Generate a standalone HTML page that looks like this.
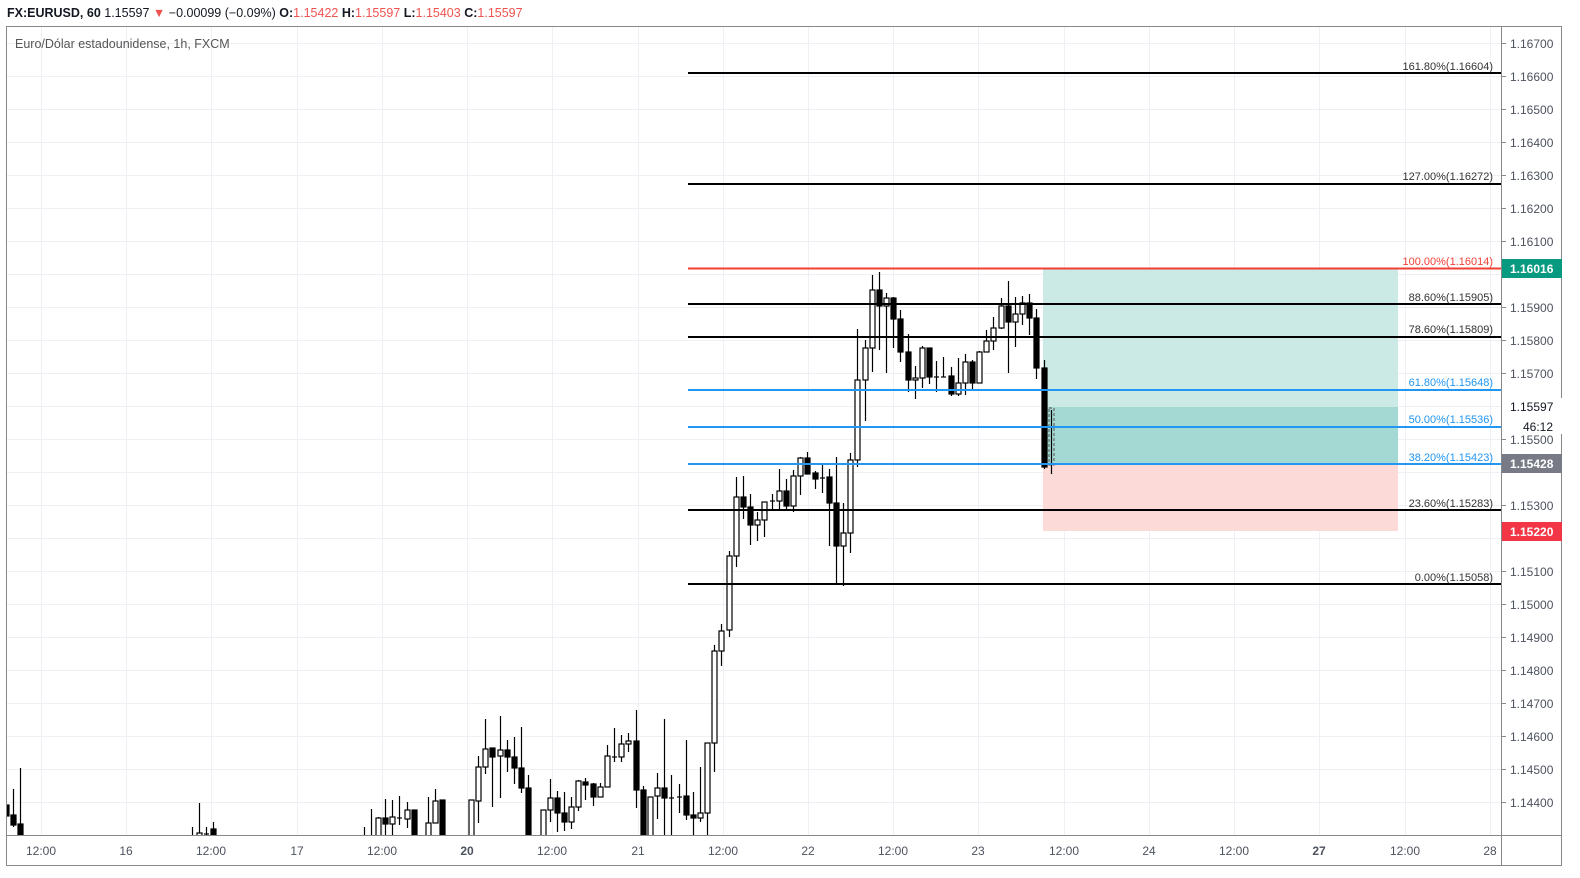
<!DOCTYPE html>
<html><head><meta charset="utf-8"><style>
html,body{margin:0;padding:0;background:#fff;overflow:hidden;width:1580px;height:878px;}
svg{display:block;font-family:"Liberation Sans",sans-serif;}
</style></head><body>
<svg width="1580" height="878" viewBox="0 0 1580 878" xmlns="http://www.w3.org/2000/svg">
<rect width="1580" height="878" fill="#fff"/>
<text x="7" y="17" font-size="12.5" fill="#131722"><tspan font-weight="bold">FX:EURUSD, 60</tspan> 1.15597 <tspan fill="#ef5350">▼</tspan> −0.00099 (−0.09%) <tspan font-weight="bold">O:</tspan><tspan fill="#ef5350">1.15422</tspan> <tspan font-weight="bold">H:</tspan><tspan fill="#ef5350">1.15597</tspan> <tspan font-weight="bold">L:</tspan><tspan fill="#ef5350">1.15403</tspan> <tspan font-weight="bold">C:</tspan><tspan fill="#ef5350">1.15597</tspan></text>
<g stroke="#eef0f5" stroke-width="1">
<line x1="7" x2="1501" y1="43.5" y2="43.5"/><line x1="7" x2="1501" y1="76.5" y2="76.5"/><line x1="7" x2="1501" y1="109.5" y2="109.5"/><line x1="7" x2="1501" y1="142.5" y2="142.5"/><line x1="7" x2="1501" y1="175.5" y2="175.5"/><line x1="7" x2="1501" y1="208.5" y2="208.5"/><line x1="7" x2="1501" y1="241.5" y2="241.5"/><line x1="7" x2="1501" y1="274.5" y2="274.5"/><line x1="7" x2="1501" y1="307.5" y2="307.5"/><line x1="7" x2="1501" y1="340.5" y2="340.5"/><line x1="7" x2="1501" y1="373.5" y2="373.5"/><line x1="7" x2="1501" y1="406.5" y2="406.5"/><line x1="7" x2="1501" y1="439.5" y2="439.5"/><line x1="7" x2="1501" y1="472.5" y2="472.5"/><line x1="7" x2="1501" y1="505.5" y2="505.5"/><line x1="7" x2="1501" y1="538.5" y2="538.5"/><line x1="7" x2="1501" y1="571.5" y2="571.5"/><line x1="7" x2="1501" y1="604.5" y2="604.5"/><line x1="7" x2="1501" y1="637.5" y2="637.5"/><line x1="7" x2="1501" y1="670.5" y2="670.5"/><line x1="7" x2="1501" y1="703.5" y2="703.5"/><line x1="7" x2="1501" y1="736.5" y2="736.5"/><line x1="7" x2="1501" y1="769.5" y2="769.5"/><line x1="7" x2="1501" y1="802.5" y2="802.5"/>
<line y1="27" y2="835" x1="41.5" x2="41.5"/><line y1="27" y2="835" x1="126.5" x2="126.5"/><line y1="27" y2="835" x1="211.5" x2="211.5"/><line y1="27" y2="835" x1="297.5" x2="297.5"/><line y1="27" y2="835" x1="382.5" x2="382.5"/><line y1="27" y2="835" x1="467.5" x2="467.5"/><line y1="27" y2="835" x1="552.5" x2="552.5"/><line y1="27" y2="835" x1="638.5" x2="638.5"/><line y1="27" y2="835" x1="723.5" x2="723.5"/><line y1="27" y2="835" x1="808.5" x2="808.5"/><line y1="27" y2="835" x1="893.5" x2="893.5"/><line y1="27" y2="835" x1="978.5" x2="978.5"/><line y1="27" y2="835" x1="1064.5" x2="1064.5"/><line y1="27" y2="835" x1="1149.5" x2="1149.5"/><line y1="27" y2="835" x1="1234.5" x2="1234.5"/><line y1="27" y2="835" x1="1319.5" x2="1319.5"/><line y1="27" y2="835" x1="1405.5" x2="1405.5"/><line y1="27" y2="835" x1="1490.5" x2="1490.5"/>
</g>
<text x="15" y="48" font-size="12.5" fill="#555">Euro/Dólar estadounidense, 1h, FXCM</text>
<rect x="1043" y="268" width="355" height="196" fill="#cbe9e5"/>
<rect x="1043" y="407" width="355" height="57" fill="#a3d9d2"/>
<rect x="1043" y="464" width="355" height="67" fill="#fcdad8"/>
<defs><clipPath id="c"><rect x="7" y="27" width="1494" height="808"/></clipPath></defs>
<g clip-path="url(#c)" stroke="#000" stroke-width="1.2">
<rect x="5" y="805" width="4" height="11" fill="#000"/>
<line x1="13.5" x2="13.5" y1="789" y2="827"/><rect x="11" y="815" width="5" height="10" fill="#000"/>
<line x1="20.5" x2="20.5" y1="768" y2="840"/><rect x="18" y="824" width="5" height="16" fill="#000"/>
<line x1="192.5" x2="192.5" y1="827" y2="840"/>
<line x1="199.5" x2="199.5" y1="803" y2="840"/><rect x="197" y="833" width="5" height="7" fill="#fff"/>
<line x1="206.5" x2="206.5" y1="827" y2="840"/><line x1="204" x2="209" y1="834" y2="834"/>
<line x1="213.5" x2="213.5" y1="822" y2="840"/><rect x="211" y="829" width="5" height="11" fill="#000"/>
<line x1="364.5" x2="364.5" y1="827" y2="840"/>
<line x1="371.5" x2="371.5" y1="809" y2="840"/>
<line x1="378.5" x2="378.5" y1="817" y2="840"/><rect x="376" y="818" width="5" height="22" fill="#fff"/>
<line x1="385.5" x2="385.5" y1="799" y2="840"/><rect x="383" y="818" width="5" height="6" fill="#000"/>
<line x1="392.5" x2="392.5" y1="800" y2="840"/><rect x="390" y="817" width="5" height="7" fill="#fff"/>
<line x1="399.5" x2="399.5" y1="796" y2="825"/><line x1="397" x2="402" y1="818" y2="818"/>
<line x1="407.5" x2="407.5" y1="802" y2="828"/><rect x="405" y="810" width="5" height="9" fill="#fff"/>
<line x1="414.5" x2="414.5" y1="810" y2="840"/><rect x="412" y="810" width="5" height="30" fill="#000"/>
<line x1="428.5" x2="428.5" y1="797" y2="840"/><rect x="426" y="823" width="5" height="17" fill="#fff"/>
<line x1="435.5" x2="435.5" y1="789" y2="823"/><rect x="433" y="801" width="5" height="22" fill="#fff"/>
<rect x="440" y="800" width="5" height="40" fill="#000"/>
<rect x="469" y="800" width="5" height="40" fill="#fff"/>
<line x1="478.5" x2="478.5" y1="756" y2="823"/><rect x="476" y="767" width="5" height="34" fill="#fff"/>
<line x1="485.5" x2="485.5" y1="719" y2="774"/><rect x="483" y="749" width="5" height="18" fill="#fff"/>
<line x1="492.5" x2="492.5" y1="748" y2="807"/><rect x="490" y="748" width="5" height="9" fill="#000"/>
<line x1="500.5" x2="500.5" y1="716" y2="798"/><rect x="498" y="750" width="5" height="6" fill="#fff"/>
<line x1="507.5" x2="507.5" y1="740" y2="772"/><rect x="505" y="750" width="5" height="7" fill="#000"/>
<line x1="514.5" x2="514.5" y1="737" y2="784"/><rect x="512" y="757" width="5" height="11" fill="#000"/>
<line x1="521.5" x2="521.5" y1="727" y2="793"/><rect x="519" y="768" width="5" height="20" fill="#000"/>
<line x1="528.5" x2="528.5" y1="775" y2="840"/><rect x="526" y="788" width="5" height="52" fill="#000"/>
<rect x="541" y="810" width="5" height="30" fill="#fff"/>
<line x1="550.5" x2="550.5" y1="779" y2="822"/><rect x="548" y="798" width="5" height="12" fill="#fff"/>
<line x1="557.5" x2="557.5" y1="791" y2="832"/><rect x="555" y="798" width="5" height="15" fill="#000"/>
<line x1="564.5" x2="564.5" y1="792" y2="831"/><rect x="562" y="813" width="5" height="9" fill="#000"/>
<line x1="571.5" x2="571.5" y1="797" y2="829"/><rect x="569" y="807" width="5" height="15" fill="#fff"/>
<line x1="578.5" x2="578.5" y1="780" y2="811"/><rect x="576" y="781" width="5" height="26" fill="#fff"/>
<line x1="585.5" x2="585.5" y1="778" y2="800"/><rect x="583" y="782" width="5" height="3" fill="#000"/>
<line x1="593.5" x2="593.5" y1="783" y2="806"/><rect x="591" y="784" width="5" height="13" fill="#000"/>
<line x1="600.5" x2="600.5" y1="783" y2="797"/><rect x="598" y="787" width="5" height="10" fill="#fff"/>
<line x1="607.5" x2="607.5" y1="745" y2="787"/><rect x="605" y="756" width="5" height="31" fill="#fff"/>
<line x1="614.5" x2="614.5" y1="728" y2="762"/><line x1="612" x2="617" y1="757" y2="757"/>
<line x1="621.5" x2="621.5" y1="735" y2="762"/><rect x="619" y="744" width="5" height="13" fill="#fff"/>
<line x1="628.5" x2="628.5" y1="733" y2="752"/><rect x="626" y="741" width="5" height="3" fill="#fff"/>
<line x1="636.5" x2="636.5" y1="710" y2="808"/><rect x="634" y="741" width="5" height="49" fill="#000"/>
<line x1="643.5" x2="643.5" y1="786" y2="840"/><rect x="641" y="790" width="5" height="50" fill="#000"/>
<rect x="648" y="797" width="5" height="43" fill="#fff"/>
<line x1="657.5" x2="657.5" y1="773" y2="819"/><rect x="655" y="788" width="5" height="8" fill="#fff"/>
<line x1="664.5" x2="664.5" y1="719" y2="840"/><rect x="662" y="788" width="5" height="10" fill="#000"/>
<line x1="671.5" x2="671.5" y1="775" y2="840"/><line x1="669" x2="674" y1="798" y2="798"/>
<line x1="679.5" x2="679.5" y1="784" y2="813"/><line x1="677" x2="682" y1="797" y2="797"/>
<line x1="686.5" x2="686.5" y1="740" y2="820"/><rect x="684" y="796" width="5" height="19" fill="#000"/>
<line x1="693.5" x2="693.5" y1="792" y2="837"/><rect x="691" y="815" width="5" height="3" fill="#000"/>
<line x1="700.5" x2="700.5" y1="767" y2="822"/><rect x="698" y="813" width="5" height="5" fill="#fff"/>
<line x1="707.5" x2="707.5" y1="743" y2="840"/><rect x="705" y="743" width="5" height="70" fill="#fff"/>
<line x1="714.5" x2="714.5" y1="645" y2="772"/><rect x="712" y="651" width="5" height="92" fill="#fff"/>
<line x1="721.5" x2="721.5" y1="624" y2="666"/><rect x="719" y="631" width="5" height="20" fill="#fff"/>
<line x1="729.5" x2="729.5" y1="551" y2="637"/><rect x="727" y="556" width="5" height="74" fill="#fff"/>
<line x1="736.5" x2="736.5" y1="477" y2="567"/><rect x="734" y="497" width="5" height="59" fill="#fff"/>
<line x1="743.5" x2="743.5" y1="476" y2="519"/><rect x="741" y="497" width="5" height="10" fill="#000"/>
<line x1="750.5" x2="750.5" y1="494" y2="545"/><rect x="748" y="507" width="5" height="18" fill="#000"/>
<line x1="757.5" x2="757.5" y1="512" y2="541"/><rect x="755" y="520" width="5" height="5" fill="#fff"/>
<line x1="764.5" x2="764.5" y1="502" y2="537"/><rect x="762" y="502" width="5" height="18" fill="#fff"/>
<line x1="772.5" x2="772.5" y1="494" y2="509"/><line x1="770" x2="775" y1="501" y2="501"/>
<line x1="779.5" x2="779.5" y1="469" y2="509"/><rect x="777" y="491" width="5" height="10" fill="#fff"/>
<line x1="786.5" x2="786.5" y1="479" y2="511"/><rect x="784" y="491" width="5" height="15" fill="#000"/>
<line x1="793.5" x2="793.5" y1="470" y2="512"/><rect x="791" y="476" width="5" height="30" fill="#fff"/>
<line x1="800.5" x2="800.5" y1="457" y2="495"/><rect x="798" y="458" width="5" height="18" fill="#fff"/>
<line x1="807.5" x2="807.5" y1="452" y2="474"/><rect x="805" y="458" width="5" height="16" fill="#000"/>
<line x1="815.5" x2="815.5" y1="471" y2="489"/><rect x="813" y="473" width="5" height="6" fill="#000"/>
<line x1="822.5" x2="822.5" y1="463" y2="493"/><line x1="820" x2="825" y1="478" y2="478"/>
<line x1="829.5" x2="829.5" y1="469" y2="546"/><rect x="827" y="477" width="5" height="26" fill="#000"/>
<line x1="836.5" x2="836.5" y1="457" y2="583"/><rect x="834" y="503" width="5" height="43" fill="#000"/>
<line x1="843.5" x2="843.5" y1="503" y2="586"/><rect x="841" y="533" width="5" height="13" fill="#fff"/>
<line x1="850.5" x2="850.5" y1="453" y2="553"/><rect x="848" y="460" width="5" height="73" fill="#fff"/>
<line x1="857.5" x2="857.5" y1="329" y2="467"/><rect x="855" y="380" width="5" height="80" fill="#fff"/>
<line x1="865.5" x2="865.5" y1="340" y2="421"/><rect x="863" y="348" width="5" height="32" fill="#fff"/>
<line x1="872.5" x2="872.5" y1="275" y2="372"/><rect x="870" y="290" width="5" height="58" fill="#fff"/>
<line x1="879.5" x2="879.5" y1="272" y2="350"/><rect x="877" y="290" width="5" height="16" fill="#000"/>
<line x1="886.5" x2="886.5" y1="293" y2="373"/><rect x="884" y="298" width="5" height="8" fill="#fff"/>
<line x1="893.5" x2="893.5" y1="297" y2="348"/><rect x="891" y="298" width="5" height="21" fill="#000"/>
<line x1="900.5" x2="900.5" y1="310" y2="362"/><rect x="898" y="319" width="5" height="33" fill="#000"/>
<line x1="908.5" x2="908.5" y1="334" y2="392"/><rect x="906" y="352" width="5" height="28" fill="#000"/>
<line x1="915.5" x2="915.5" y1="366" y2="399"/><rect x="913" y="378" width="5" height="2" fill="#fff"/>
<line x1="922.5" x2="922.5" y1="346" y2="388"/><rect x="920" y="348" width="5" height="30" fill="#fff"/>
<line x1="929.5" x2="929.5" y1="348" y2="384"/><rect x="927" y="348" width="5" height="29" fill="#000"/>
<line x1="936.5" x2="936.5" y1="361" y2="392"/><line x1="934" x2="939" y1="377" y2="377"/>
<line x1="943.5" x2="943.5" y1="357" y2="377"/><line x1="941" x2="946" y1="377" y2="377"/>
<line x1="951.5" x2="951.5" y1="367" y2="396"/><rect x="949" y="376" width="5" height="18" fill="#000"/>
<line x1="958.5" x2="958.5" y1="358" y2="396"/><rect x="956" y="383" width="5" height="11" fill="#fff"/>
<line x1="965.5" x2="965.5" y1="354" y2="395"/><rect x="963" y="362" width="5" height="21" fill="#fff"/>
<line x1="972.5" x2="972.5" y1="360" y2="391"/><rect x="970" y="362" width="5" height="21" fill="#000"/>
<line x1="979.5" x2="979.5" y1="351" y2="383"/><rect x="977" y="352" width="5" height="31" fill="#fff"/>
<line x1="986.5" x2="986.5" y1="330" y2="352"/><rect x="984" y="341" width="5" height="11" fill="#fff"/>
<line x1="993.5" x2="993.5" y1="317" y2="350"/><rect x="991" y="328" width="5" height="13" fill="#fff"/>
<line x1="1001.5" x2="1001.5" y1="298" y2="329"/><rect x="999" y="306" width="5" height="22" fill="#fff"/>
<line x1="1008.5" x2="1008.5" y1="281" y2="373"/><rect x="1006" y="306" width="5" height="16" fill="#000"/>
<line x1="1015.5" x2="1015.5" y1="297" y2="347"/><rect x="1013" y="314" width="5" height="8" fill="#fff"/>
<line x1="1022.5" x2="1022.5" y1="296" y2="325"/><rect x="1020" y="303" width="5" height="11" fill="#fff"/>
<line x1="1029.5" x2="1029.5" y1="294" y2="335"/><rect x="1027" y="303" width="5" height="15" fill="#000"/>
<line x1="1036.5" x2="1036.5" y1="309" y2="379"/><rect x="1034" y="318" width="5" height="50" fill="#000"/>
<line x1="1044.5" x2="1044.5" y1="360" y2="469"/><rect x="1042" y="368" width="5" height="99" fill="#000"/>
<line x1="1051.5" x2="1051.5" y1="410" y2="474"/><rect x="1049" y="408" width="5" height="57" fill="none" stroke="#666" stroke-dasharray="3,2"/>
</g>
<g stroke-width="2">
<line x1="688" x2="1501" y1="73" y2="73" stroke="#000"/>
<line x1="688" x2="1501" y1="184" y2="184" stroke="#000"/>
<line x1="688" x2="1501" y1="268.5" y2="268.5" stroke="#f23f35"/>
<line x1="688" x2="1501" y1="304" y2="304" stroke="#000"/>
<line x1="688" x2="1501" y1="337" y2="337" stroke="#000"/>
<line x1="688" x2="1501" y1="390" y2="390" stroke="#2196f3"/>
<line x1="688" x2="1501" y1="427" y2="427" stroke="#2196f3"/>
<line x1="688" x2="1501" y1="464" y2="464" stroke="#2196f3"/>
<line x1="688" x2="1501" y1="510" y2="510" stroke="#000"/>
<line x1="688" x2="1501" y1="584" y2="584" stroke="#000"/>
</g>
<g font-size="11" text-anchor="end" fill="#333">
<text x="1493" y="70">161.80%(1.16604)</text>
<text x="1493" y="180">127.00%(1.16272)</text>
<text x="1493" y="265" fill="#f23f35">100.00%(1.16014)</text>
<text x="1493" y="301">88.60%(1.15905)</text>
<text x="1493" y="333">78.60%(1.15809)</text>
<text x="1493" y="386" fill="#2196f3">61.80%(1.15648)</text>
<text x="1493" y="423" fill="#2196f3">50.00%(1.15536)</text>
<text x="1493" y="461" fill="#2196f3">38.20%(1.15423)</text>
<text x="1493" y="507">23.60%(1.15283)</text>
<text x="1493" y="581">0.00%(1.15058)</text>
</g>
<g stroke="#888" stroke-width="1" fill="none">
<rect x="6.5" y="26.5" width="1555" height="839"/>
<line x1="1501.5" x2="1501.5" y1="27" y2="865"/>
<line x1="7" x2="1562" y1="835.5" y2="835.5"/>
</g>
<g font-size="12" fill="#4c525e">
<g stroke="#888"><line x1="1502" x2="1506" y1="43.5" y2="43.5"/><line x1="1502" x2="1506" y1="76.5" y2="76.5"/><line x1="1502" x2="1506" y1="109.5" y2="109.5"/><line x1="1502" x2="1506" y1="142.5" y2="142.5"/><line x1="1502" x2="1506" y1="175.5" y2="175.5"/><line x1="1502" x2="1506" y1="208.5" y2="208.5"/><line x1="1502" x2="1506" y1="241.5" y2="241.5"/><line x1="1502" x2="1506" y1="307.5" y2="307.5"/><line x1="1502" x2="1506" y1="340.5" y2="340.5"/><line x1="1502" x2="1506" y1="373.5" y2="373.5"/><line x1="1502" x2="1506" y1="439.5" y2="439.5"/><line x1="1502" x2="1506" y1="505.5" y2="505.5"/><line x1="1502" x2="1506" y1="571.5" y2="571.5"/><line x1="1502" x2="1506" y1="604.5" y2="604.5"/><line x1="1502" x2="1506" y1="637.5" y2="637.5"/><line x1="1502" x2="1506" y1="670.5" y2="670.5"/><line x1="1502" x2="1506" y1="703.5" y2="703.5"/><line x1="1502" x2="1506" y1="736.5" y2="736.5"/><line x1="1502" x2="1506" y1="769.5" y2="769.5"/><line x1="1502" x2="1506" y1="802.5" y2="802.5"/><line x1="1502" x2="1506" y1="406.5" y2="406.5" stroke="#000"/></g>
<text x="1510" y="48">1.16700</text><text x="1510" y="81">1.16600</text><text x="1510" y="114">1.16500</text><text x="1510" y="147">1.16400</text><text x="1510" y="180">1.16300</text><text x="1510" y="213">1.16200</text><text x="1510" y="246">1.16100</text><text x="1510" y="312">1.15900</text><text x="1510" y="345">1.15800</text><text x="1510" y="378">1.15700</text><text x="1510" y="444">1.15500</text><text x="1510" y="510">1.15300</text><text x="1510" y="576">1.15100</text><text x="1510" y="609">1.15000</text><text x="1510" y="642">1.14900</text><text x="1510" y="675">1.14800</text><text x="1510" y="708">1.14700</text><text x="1510" y="741">1.14600</text><text x="1510" y="774">1.14500</text><text x="1510" y="807">1.14400</text>
<rect x="1502" y="398" width="60" height="36" fill="#fff"/>
<text x="1510" y="411" fill="#131722">1.15597</text>
<text x="1523" y="431" fill="#131722">46:12</text>
<rect x="1502" y="259" width="60" height="19" fill="#089981"/>
<text x="1510" y="273" fill="#fff" font-weight="bold">1.16016</text>
<rect x="1502" y="454" width="60" height="19" fill="#787b86"/>
<text x="1510" y="468" fill="#fff" font-weight="bold">1.15428</text>
<rect x="1502" y="522" width="60" height="19" fill="#f23645"/>
<text x="1510" y="536" fill="#fff" font-weight="bold">1.15220</text>
</g>
<g font-size="12" fill="#4c525e" text-anchor="middle">
<text x="41" y="855">12:00</text><text x="126" y="855">16</text><text x="211" y="855">12:00</text><text x="297" y="855">17</text><text x="382" y="855">12:00</text><text x="467" y="855" font-weight="bold">20</text><text x="552" y="855">12:00</text><text x="638" y="855">21</text><text x="723" y="855">12:00</text><text x="808" y="855">22</text><text x="893" y="855">12:00</text><text x="978" y="855">23</text><text x="1064" y="855">12:00</text><text x="1149" y="855">24</text><text x="1234" y="855">12:00</text><text x="1319" y="855" font-weight="bold">27</text><text x="1405" y="855">12:00</text><text x="1490" y="855">28</text>
</g>
</svg>
</body></html>
